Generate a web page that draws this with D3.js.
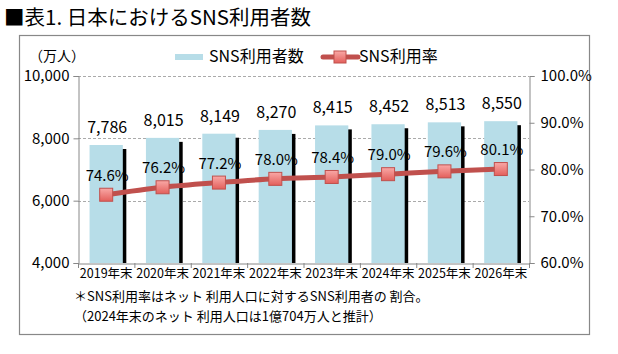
<!DOCTYPE html>
<html><head><meta charset="utf-8">
<script src="https://cdn.jsdelivr.net/npm/d3@7"></script>
<style>
body{margin:0;background:#fff;}
svg{display:block;font-family:"Noto Sans CJK JP","Noto Sans",sans-serif;}
</style></head>
<body>
<svg id="c" width="618" height="354"></svg>
<script>
const categories = ["2019年末","2020年末","2021年末","2022年末","2023年末","2024年末","2025年末","2026年末"];
const users = [7786, 8015, 8149, 8270, 8415, 8452, 8513, 8550];
const rates = [74.6, 76.2, 77.2, 78.0, 78.4, 79.0, 79.6, 80.1];
const leftTicks = [4000, 6000, 8000, 10000];
const rightTicks = [60, 70, 80, 90, 100];
const titleText = "■表1. 日本におけるSNS利用者数";
const unitText = "（万人）";
const legendNames = ["SNS利用者数", "SNS利用率"];
const notes = ["＊SNS利用率はネット 利用人口に対するSNS利用者の 割合。", "（2024年末のネット 利用人口は1億704万人と推計）"];

const svg = d3.select("#c");
const L = 78, R = 529, T = 76, B = 263;
const barColor = "#b7dde8", lineColor = "#c0504d";

const x = d3.scaleBand().domain(categories).range([L, R]).paddingInner(0.41).paddingOuter(0.205);
const y = d3.scaleLinear().domain([4000, 10000]).range([B, T]);
const y2 = d3.scaleLinear().domain([60, 100]).range([B, T]);

const defs = svg.append("defs");
const g = defs.append("linearGradient").attr("id","mk").attr("x1",0).attr("y1",0).attr("x2",0).attr("y2",1);
g.append("stop").attr("offset","0%").attr("stop-color","#f9a8a6");
g.append("stop").attr("offset","100%").attr("stop-color","#e35f5b");

// title
svg.append("text").attr("x", 4).attr("y", 25).attr("font-size", 20.5).attr("fill","#000").text(titleText);

// frame
svg.append("rect").attr("x", 19.5).attr("y", 35.5).attr("width", 570).attr("height", 299)
  .attr("fill","none").attr("stroke","#888").attr("stroke-width",1.2);

// gridlines
svg.append("g").selectAll("line").data(leftTicks.filter(d => d > 4000)).join("line")
  .attr("x1", L).attr("x2", R).attr("y1", d => Math.round(y(d))+0.5).attr("y2", d => Math.round(y(d))+0.5)
  .attr("stroke","#aaa").attr("stroke-dasharray","3,2").attr("stroke-width",1);

// bar shadows
svg.append("g").selectAll("rect").data(users).join("rect")
  .attr("x", (d,i) => x(categories[i]) + 3.5).attr("y", d => y(d) + 4)
  .attr("width", x.bandwidth()).attr("height", d => B - y(d) - 4)
  .attr("fill","#000");
// bars
svg.append("g").selectAll("rect").data(users).join("rect")
  .attr("x", (d,i) => x(categories[i])).attr("y", d => y(d))
  .attr("width", x.bandwidth()).attr("height", d => B - y(d))
  .attr("fill", barColor);

// axes
const axL = d3.axisLeft(y).tickValues(leftTicks).tickFormat(d3.format(",")).tickSize(5).tickPadding(4);
const gl = svg.append("g").attr("transform", `translate(${L+0.5},0)`).call(axL);
const axR = d3.axisRight(y2).tickValues(rightTicks).tickFormat(d => d.toFixed(1) + "%").tickSize(5).tickPadding(6);
const gr = svg.append("g").attr("transform", `translate(${R+0.5},0)`).call(axR);
const axB = d3.axisBottom(x).tickSize(0).tickPadding(6);
const gb = svg.append("g").attr("transform", `translate(0,${B+0.5})`).call(axB);
[gl, gr, gb].forEach(a => {
  a.select(".domain").attr("stroke","#888");
  a.selectAll(".tick line").attr("stroke","#888");
  a.selectAll("text").attr("fill","#000").attr("font-family",'"Noto Sans CJK JP",sans-serif');
});
gl.selectAll("text").attr("font-size", 15);
gr.selectAll("text").attr("font-size", 15);
gb.selectAll("text").attr("font-size", 12.5);
const step = x.step();
svg.append("g").selectAll("line").data(d3.range(categories.length + 1)).join("line")
  .attr("x1", i => L + i * step + 0.5).attr("x2", i => L + i * step + 0.5)
  .attr("y1", B).attr("y2", B + 5).attr("stroke","#888");

// bar value labels
svg.append("g").selectAll("text").data(users).join("text")
  .attr("x", (d,i) => x(categories[i]) + x.bandwidth()/2 + 1)
  .attr("y", d => y(d) - 12)
  .attr("text-anchor","middle").attr("font-size", 16).attr("fill","#000")
  .text(d => d3.format(",")(d));

// line
const cx = (d,i) => x(categories[i]) + x.bandwidth()/2;
svg.append("path").datum(rates)
  .attr("d", d3.line().x(cx).y(d => y2(d)).curve(d3.curveMonotoneX))
  .attr("fill","none").attr("stroke", lineColor).attr("stroke-width", 5).attr("stroke-linecap","round");
svg.append("g").selectAll("rect").data(rates).join("rect")
  .attr("x", (d,i) => cx(d,i) - 6.5).attr("y", d => y2(d) - 6.5)
  .attr("width", 13).attr("height", 13).attr("fill","url(#mk)").attr("stroke","#c0504d").attr("stroke-width",1);

// rate labels
svg.append("g").selectAll("text").data(rates).join("text")
  .attr("x", (d,i) => cx(d,i) + 1).attr("y", d => y2(d) - 14)
  .attr("text-anchor","middle").attr("font-size", 15).attr("fill","#000")
  .text(d => d.toFixed(1) + "%");

// unit label
svg.append("text").attr("x", 29).attr("y", 61).attr("font-size", 14).attr("fill","#000").text(unitText);

// legend
svg.append("rect").attr("x", 175).attr("y", 54).attr("width", 28).attr("height", 6).attr("fill", barColor);
svg.append("text").attr("x", 209).attr("y", 62).attr("font-size", 16).attr("fill","#000").text(legendNames[0]);
svg.append("line").attr("x1", 323).attr("x2", 358).attr("y1", 57).attr("y2", 57)
  .attr("stroke", lineColor).attr("stroke-width", 5).attr("stroke-linecap","round");
svg.append("rect").attr("x", 334).attr("y", 51).attr("width", 12).attr("height", 12)
  .attr("fill","url(#mk)").attr("stroke","#c0504d");
svg.append("text").attr("x", 359).attr("y", 62).attr("font-size", 16).attr("fill","#000").text(legendNames[1]);

// notes
svg.append("text").attr("x", 74).attr("y", 301).attr("font-size", 13).attr("fill","#000").text(notes[0]);
svg.append("text").attr("x", 74).attr("y", 321).attr("font-size", 13).attr("fill","#000").text(notes[1]);
</script>
</body></html>
